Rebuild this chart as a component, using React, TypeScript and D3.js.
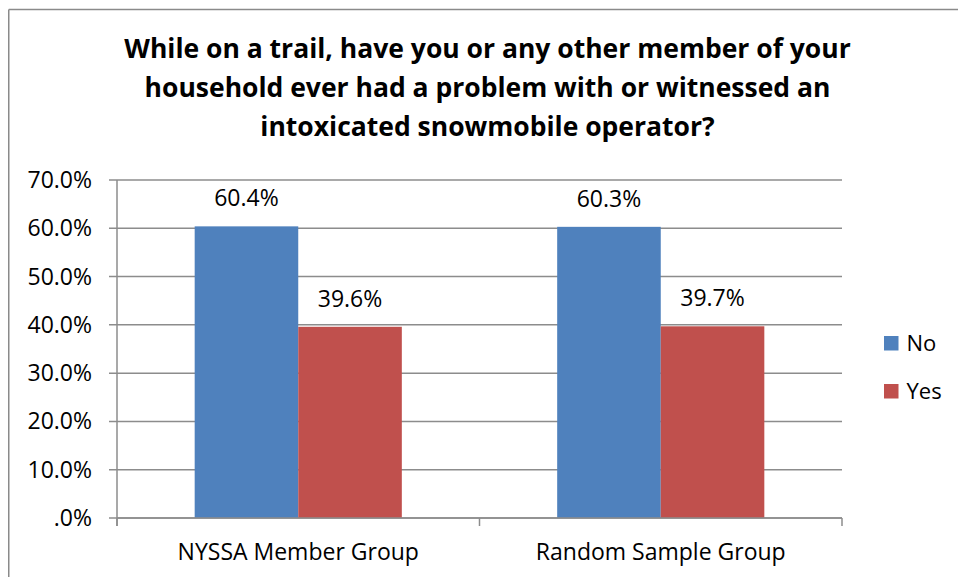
import React, { useEffect } from "react";
import * as d3 from "d3";

const categories = ["NYSSA Member Group", "Random Sample Group"];
const seriesNames = ["No", "Yes"];
const noValues = [0.604, 0.603];
const yesValues = [0.396, 0.397];
const yTicks = [0, 0.1, 0.2, 0.3, 0.4, 0.5, 0.6, 0.7];
const titleLines = [
  "While on a trail, have you or any other member of your",
  "household ever had a problem with or witnessed an",
  "intoxicated snowmobile operator?",
];
const colors = ["#4F81BD", "#C0504D"];

const W = 958;
const H = 577;
const FONT = "'Open Sans', sans-serif";

export default function App() {
  useEffect(() => {
    document.body.style.margin = "0";
    document.documentElement.style.overflow = "hidden";
  }, []);

  const left = 117;
  const right = 842;
  const top = 180;
  const bottom = 518;

  const x = d3.scaleBand<string>().domain(categories).range([left, right]).paddingInner(0).paddingOuter(0);
  const xs = d3.scaleBand<string>().domain(seriesNames).range([0, x.bandwidth()]).paddingInner(0).paddingOuter(0.75);
  const y = d3.scaleLinear().domain([0, 0.7]).range([bottom, top]);
  const fmt = (v: number) => (v === 0 ? ".0%" : d3.format(".1%")(v));
  const seriesValues = [noValues, yesValues];

  const gridColor = "#8C8C8C";

  return (
    <svg width={W} height={H} style={{ display: "block", overflow: "hidden" }}>
      <rect x={0} y={0} width={W} height={H} fill="#fff" />
      <line x1={8.75} x2={8.75} y1={9.5} y2={H} stroke="#8A8A8A" strokeWidth={1.5} />
      <line x1={8.75} x2={W} y1={9.5} y2={9.5} stroke="#8A8A8A" strokeWidth={1.5} />
      {titleLines.map((t, i) => (
        <text key={i} x={487.5} y={58 + i * 39} textAnchor="middle" fontFamily={FONT} fontWeight={700} fontSize={26.5} fill="#000">
          {t}
        </text>
      ))}
      {yTicks.map((t) => (
        <g key={t}>
          <line x1={left - 8} x2={right} y1={y(t)} y2={y(t)} stroke={gridColor} strokeWidth={1.5} />
          <text x={92} y={y(t) + 8} textAnchor="end" fontFamily={FONT} fontSize={23} fill="#000">
            {fmt(t)}
          </text>
        </g>
      ))}
      <line x1={left} x2={left} y1={top} y2={bottom + 8} stroke={gridColor} strokeWidth={1.5} />
      {seriesNames.map((s, si) =>
        categories.map((c, ci) => {
          const v = seriesValues[si][ci];
          const bx = (x(c) as number) + (xs(s) as number);
          return (
            <g key={s + c}>
              <rect x={bx} y={y(v)} width={xs.bandwidth()} height={y(0) - y(v)} fill={colors[si]} />
              <text x={bx + xs.bandwidth() / 2} y={y(v) - 20} textAnchor="middle" fontFamily={FONT} fontSize={23} fill="#000">
                {fmt(v)}
              </text>
            </g>
          );
        })
      )}
      <line x1={left} x2={right} y1={bottom} y2={bottom} stroke={gridColor} strokeWidth={1.5} />
      {[left, ...categories.map((c) => (x(c) as number) + x.bandwidth())].map((tx, i) => (
        <line key={i} x1={tx} x2={tx} y1={bottom} y2={bottom + 8} stroke={gridColor} strokeWidth={1.5} />
      ))}
      {categories.map((c) => (
        <text key={c} x={(x(c) as number) + x.bandwidth() / 2} y={560} textAnchor="middle" fontFamily={FONT} fontSize={23} fill="#000">
          {c}
        </text>
      ))}
      {seriesNames.map((s, i) => (
        <g key={s}>
          <rect x={884} y={336 + i * 48} width={14.5} height={14.5} fill={colors[i]} />
          <text x={906.5} y={351 + i * 48} fontFamily={FONT} fontSize={22} fill="#000">
            {s}
          </text>
        </g>
      ))}
    </svg>
  );
}
